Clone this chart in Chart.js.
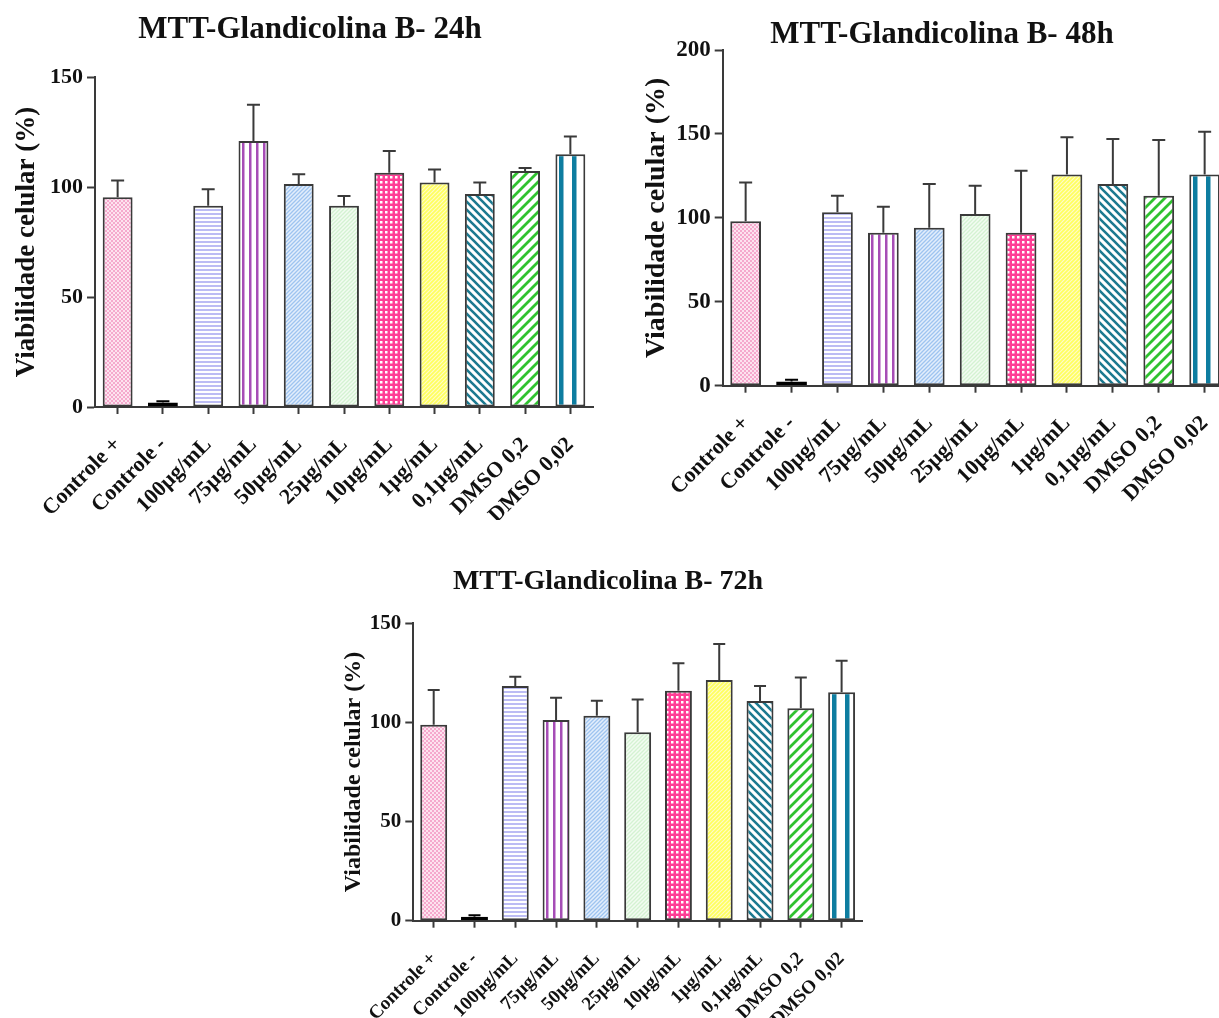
<!DOCTYPE html>
<html>
<head>
<meta charset="utf-8">
<script src="https://cdn.jsdelivr.net/npm/chart.js@4.4.1/dist/chart.umd.min.js"></script>
<style>
html,body{margin:0;padding:0;background:#fff;overflow:hidden;width:1219px;height:1018px;}
canvas{position:absolute;}
</style>
</head>
<body>
<canvas id="c24" width="600" height="520" style="left:0px;top:0px"></canvas>
<canvas id="c48" width="640" height="520" style="left:600px;top:0px"></canvas>
<canvas id="c72" width="560" height="468" style="left:330px;top:550px"></canvas>
<script>
// categories (same for the 3 panels)
const categories = ["Controle +", "Controle -", "100µg/mL", "75µg/mL", "50µg/mL", "25µg/mL",
  "10µg/mL", "1µg/mL", "0,1µg/mL", "DMSO 0,2", "DMSO 0,02"];

// 24h
const mean24 = [95.3, 2.0, 91.5, 120.9, 101.4, 91.5, 106.5, 102.0, 96.8, 107.3, 114.9];
const sd24   = [7.6, 0.6, 7.5, 16.5, 4.4, 4.4, 9.9, 6.0, 5.2, 1.3, 8.0];
// 48h
const mean48 = [98.0, 2.5, 103.3, 91.1, 94.1, 102.3, 91.1, 125.9, 120.1, 113.2, 125.9];
const sd48   = [23.1, 1.0, 9.9, 15.5, 26.0, 16.8, 37.0, 22.1, 26.9, 33.2, 25.4];
// 72h
const mean72 = [98.8, 2.0, 118.4, 101.2, 103.4, 95.0, 116.0, 121.4, 110.8, 107.1, 115.2];
const sd72   = [17.6, 0.8, 4.6, 11.3, 7.5, 16.6, 13.8, 18.2, 7.6, 15.6, 15.9];

const yTicks24 = [0, 50, 100, 150];
const yTicks48 = [0, 50, 100, 150, 200];
const yTicks72 = [0, 50, 100, 150];

const FONT = "'Liberation Serif', 'Times New Roman', serif";
Chart.defaults.font.family = FONT;
Chart.defaults.font.weight = "bold";
Chart.defaults.color = "#111";

/* pattern tiles */
function tile(w, h, draw) {
  const c = document.createElement("canvas");
  c.width = w; c.height = h;
  const g = c.getContext("2d");
  draw(g, w, h);
  return c;
}
function diag(base, line, p, lw, back) {
  return tile(p, p, (g) => {
    g.fillStyle = base; g.fillRect(0, 0, p, p);
    g.strokeStyle = line; g.lineWidth = lw;
    g.beginPath();
    if (back) {
      g.moveTo(-p, -p); g.lineTo(2 * p, 2 * p);
      g.moveTo(-p, 0); g.lineTo(p, 2 * p);
      g.moveTo(0, -p); g.lineTo(2 * p, p);
    } else {
      g.moveTo(-p, 2 * p); g.lineTo(2 * p, -p);
      g.moveTo(-p, p); g.lineTo(p, -p);
      g.moveTo(0, 2 * p); g.lineTo(2 * p, 0);
    }
    g.stroke();
  });
}
const tiles = [
  tile(4, 4, (g) => { g.fillStyle = "#fde3ef"; g.fillRect(0, 0, 4, 4); g.fillStyle = "#f5a9cd"; g.fillRect(0, 0, 2, 2); g.fillRect(2, 2, 2, 2); }),
  null,
  tile(4, 4, (g) => { g.fillStyle = "#fff"; g.fillRect(0, 0, 4, 4); g.fillStyle = "#bcbcf4"; g.fillRect(0, 1, 4, 2); }),
  tile(7, 4, (g) => { g.fillStyle = "#fff"; g.fillRect(0, 0, 7, 4); g.fillStyle = "#a64db6"; g.fillRect(3, 0, 2.5, 4); }),
  diag("#e3eefc", "#9ec4f0", 4, 1.3, false),
  diag("#f3fcf2", "#d4f2d2", 4, 1.3, false),
  tile(5, 5, (g) => { g.fillStyle = "#ff3d95"; g.fillRect(0, 0, 5, 5); g.fillStyle = "#fff"; g.fillRect(1, 1, 2.5, 2.5); }),
  diag("#ffff5e", "#fffcc8", 4, 1.2, false),
  diag("#fff", "#1c7990", 8, 2.6, true),
  diag("#fff", "#30c230", 10, 2.8, false),
  tile(13, 4, (g) => { g.fillStyle = "#fff"; g.fillRect(0, 0, 13, 4); g.fillStyle = "#0e7da0"; g.fillRect(4, 0, 4.5, 4); })
];

function barFill(ctx) {
  const t = tiles[ctx.dataIndex];
  if (!t) return "#000";
  const chart = ctx.chart;
  const pat = chart.ctx.createPattern(t, "repeat");
  const xs = chart.scales.x;
  if (xs && xs.getPixelForValue) {
    const w = xs.width / categories.length * chart.options.datasets.bar.barPercentage;
    const left = xs.getPixelForValue(ctx.dataIndex) - w / 2;
    pat.setTransform(new DOMMatrix().translate(Math.round(left), 0));
  }
  return pat;
}

/* upper error bars (mean + SD) */
const errorBars = {
  id: "errorBars",
  afterDatasetsDraw(chart, args, opts) {
    const ys = chart.scales.y;
    const meta = chart.getDatasetMeta(0);
    const c = chart.ctx;
    const means = chart.data.datasets[0].data;
    c.save();
    c.lineWidth = 2;
    meta.data.forEach((bar, i) => {
      const sd = opts.sd[i];
      if (!sd) return;
      const y0 = ys.getPixelForValue(means[i]);
      const y1 = ys.getPixelForValue(means[i] + sd);
      c.strokeStyle = i === 1 ? "#000" : "#3a3a3a";
      c.beginPath();
      c.moveTo(bar.x, y0); c.lineTo(bar.x, y1);
      c.moveTo(bar.x - opts.cap, y1); c.lineTo(bar.x + opts.cap, y1);
      c.stroke();
    });
    c.restore();
  }
};

function makeChart(id, means, sd, yTicks, o) {
  return new Chart(document.getElementById(id), {
    type: "bar",
    data: {
      labels: categories,
      datasets: [{
        data: means,
        backgroundColor: barFill,
        borderColor: (ctx) => ctx.dataIndex === 1 ? "#000" : "#3a3a3a",
        borderWidth: 2,
        borderSkipped: false
      }]
    },
    plugins: [errorBars],
    options: {
      responsive: false,
      animation: false,
      devicePixelRatio: 1,
      datasets: { bar: { barPercentage: o.barPct, categoryPercentage: 1 } },
      layout: { padding: { left: o.padLeft, right: o.padRight, top: 0, bottom: 0 } },
      plugins: {
        legend: { display: false },
        tooltip: { enabled: false },
        title: {
          display: true, text: o.title, fullSize: true,
          font: { size: o.titleSize, weight: "bold", lineHeight: 1.2 },
          color: "#111",
          padding: { top: o.titleTop, bottom: o.titleBottom }
        },
        errorBars: { sd: sd, cap: o.cap }
      },
      scales: {
        x: {
          type: "category",
          offset: true,
          grid: { display: true, drawOnChartArea: false, offset: false, tickLength: 7, tickColor: "#3a3a3a", tickWidth: 2 },
          border: { display: true, color: "#3a3a3a", width: 2 },
          ticks: { autoSkip: false, minRotation: 45, maxRotation: 45, padding: o.catPad, color: "#111",
                   font: { size: o.catSize, weight: "bold" } },
          afterFit: (s) => { s.height = o.xHeight; s.paddingLeft = 0; s.paddingRight = 0; }
        },
        y: {
          min: 0, max: yTicks[yTicks.length - 1],
          afterBuildTicks: (s) => { s.ticks = yTicks.map(v => ({ value: v })); },
          grid: { display: true, drawOnChartArea: false, tickLength: 8, tickColor: "#3a3a3a", tickWidth: 2 },
          border: { display: true, color: "#3a3a3a", width: 2 },
          ticks: { padding: 4, color: "#111", font: { size: o.tickSize, weight: "bold" } },
          title: {
            display: true, text: "Viabilidade celular (%)", color: "#111",
            font: { size: o.yTitleSize, weight: "bold", lineHeight: 1.2 },
            padding: { top: -o.yTitleSize * 0.6, bottom: 0 }
          },
          afterFit: (s) => { s.width = o.yWidth; }
        }
      }
    }
  });
}

makeChart("c24", mean24, sd24, yTicks24, {
  title: "MTT-Glandicolina B- 24h", titleSize: 31, titleTop: 11.4, titleBottom: 28.4,
  yTitleSize: 27, tickSize: 22, catSize: 22, catPad: 18,
  padLeft: 27, padRight: 7, yWidth: 68, xHeight: 113, barPct: 0.66, cap: 6.5
});

makeChart("c48", mean48, sd48, yTicks48, {
  title: "MTT-Glandicolina B- 48h", titleSize: 31, titleTop: 15.9, titleBottom: -3.1,
  yTitleSize: 28, tickSize: 23, catSize: 22, catPad: 18,
  padLeft: 56.4, padRight: 12.4, yWidth: 66.3, xHeight: 134.3, barPct: 0.67, cap: 6.5
});

makeChart("c72", mean72, sd72, yTicks72, {
  title: "MTT-Glandicolina B- 72h", titleSize: 28, titleTop: 15.2, titleBottom: 24.5,
  yTitleSize: 24, tickSize: 21, catSize: 19, catPad: 20,
  padLeft: 24, padRight: 28, yWidth: 59.3, xHeight: 97.3, barPct: 0.66, cap: 6
});
</script>
</body>
</html>
